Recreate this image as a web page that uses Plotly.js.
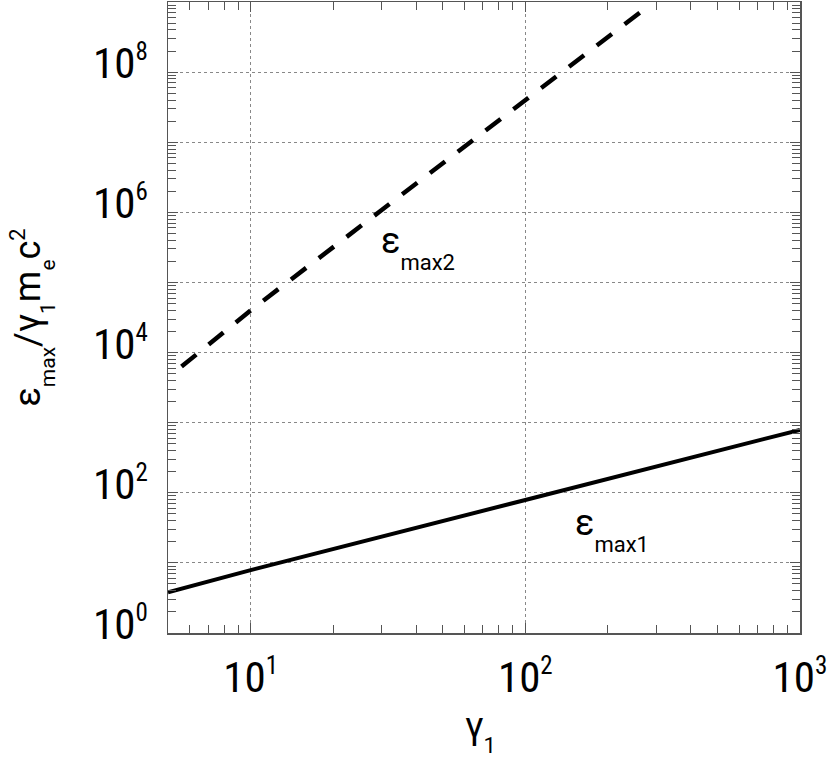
<!DOCTYPE html>
<html>
<head>
<meta charset="utf-8">
<script src="https://cdn.plot.ly/plotly-3.0.1.min.js"></script>
<style>
html,body{margin:0;padding:0;background:#fff;}
#chart{width:830px;height:758px;}
#chart .xtick text, #chart .ytick text{font-stretch:75%;}
</style>
</head>
<body>
<div id="chart"></div>
<script>
// Data
const gamma1 = [5, 10, 100, 1000];
const epsMax1 = [3.8, 7.9, 79, 790];
const gamma2 = [5.6, 10, 30, 100, 280];
const epsMax2 = [6300, 4.0e4, 1.08e6, 4.0e7, 8.7e8];

const xTickVals = [10, 100, 1000];
const xTickExp = ['1', '2', '3'];
const yTickVals = [1, 10, 100, 1e3, 1e4, 1e5, 1e6, 1e7, 1e8, 1e9];
const yTickExp = ['0', '', '2', '', '4', '', '6', '', '8', ''];

const SUP = (e) => e === '' ? '' : '10<sup><span style="font-size:25px">' + e + '</span></sup>';
const SUB = (t, px, shift) => '<sub><span style="font-size:' + px + 'px;baseline-shift:-' + shift + 'px">' + t + '</span></sub>';

const label1 = 'ε' + SUB('max1', 22, 9);
const label2 = 'ε' + SUB('max2', 22, 9);
const xTitle = 'γ' + SUB('1', 22, 7);
const yTitle = 'ε' + SUB('max', 21, 8) + '/γ' + SUB('1', 21, 8) + 'm' + SUB('e', 21, 8) + 'c<sup><span style="font-size:22px">2</span></sup>';

function minorVals(lo, hi) {
  const out = [];
  for (let e = lo; e <= hi; e++) for (let m = 2; m <= 9; m++) out.push(m * Math.pow(10, e));
  return out;
}

const FONT = "Roboto, 'Open Sans', sans-serif";
const frame = '#555';

const traces = [
  {x: gamma1, y: epsMax1, type: 'scatter', mode: 'lines', line: {color: '#000', width: 4}, hoverinfo: 'skip'},
  {x: gamma2, y: epsMax2, type: 'scatter', mode: 'lines', line: {color: '#000', width: 4.5, dash: '19px,16px'}, hoverinfo: 'skip'}
];

const axisCommon = {
  type: 'log', showline: true, linecolor: frame, linewidth: 1.5, mirror: 'ticks',
  ticks: 'inside', ticklen: 10, tickcolor: frame, tickwidth: 1,
  showgrid: true, gridcolor: '#888', gridwidth: 1, griddash: '3px,3px',
  zeroline: false, tickmode: 'array', ticklabeloverflow: 'allow',
  tickfont: {family: FONT, size: 43, color: '#000'}
};

const layout = {
  width: 830, height: 758,
  margin: {l: 168, r: 30, t: 2, b: 125},
  paper_bgcolor: '#fff', plot_bgcolor: '#fff',
  showlegend: false,
  xaxis: Object.assign({}, axisCommon, {
    range: [Math.log10(5), 3.0002],
    tickvals: xTickVals, ticktext: xTickExp.map(SUP),
    ticklabelstandoff: 6,
    minor: {tickmode: 'array', tickvals: minorVals(0, 2), ticks: 'inside', ticklen: 8, tickcolor: frame, showgrid: false}
  }),
  yaxis: Object.assign({}, axisCommon, {
    range: [0, 9],
    tickvals: yTickVals, ticktext: yTickExp.map(SUP),
    ticklabelstandoff: 10, ticklabelshift: -9,
    minor: {tickmode: 'array', tickvals: minorVals(0, 8), ticks: 'inside', ticklen: 8, tickcolor: frame, showgrid: false}
  }),
  annotations: [
    {text: label2, x: Math.log10(40.5), y: Math.log10(3.1e5), xref: 'x', yref: 'y', showarrow: false,
     font: {family: FONT, size: 36, color: '#000'}, xanchor: 'center', yanchor: 'middle'},
    {text: label1, x: Math.log10(207), y: Math.log10(29.7), xref: 'x', yref: 'y', showarrow: false,
     font: {family: FONT, size: 36, color: '#000'}, xanchor: 'center', yanchor: 'middle'},
    {text: xTitle, x: 0.495, y: -0.109, xref: 'paper', yref: 'paper', showarrow: false,
     font: {family: FONT, size: 37, color: '#000'}, xanchor: 'center', yanchor: 'top'},
    {text: yTitle, x: -0.215, y: 0.5, xref: 'paper', yref: 'paper', showarrow: false, textangle: -90,
     font: {family: FONT, size: 36, color: '#000'}, xanchor: 'center', yanchor: 'middle'}
  ]
};

Plotly.newPlot('chart', traces, layout, {staticPlot: true, displayModeBar: false});
</script>
</body>
</html>
